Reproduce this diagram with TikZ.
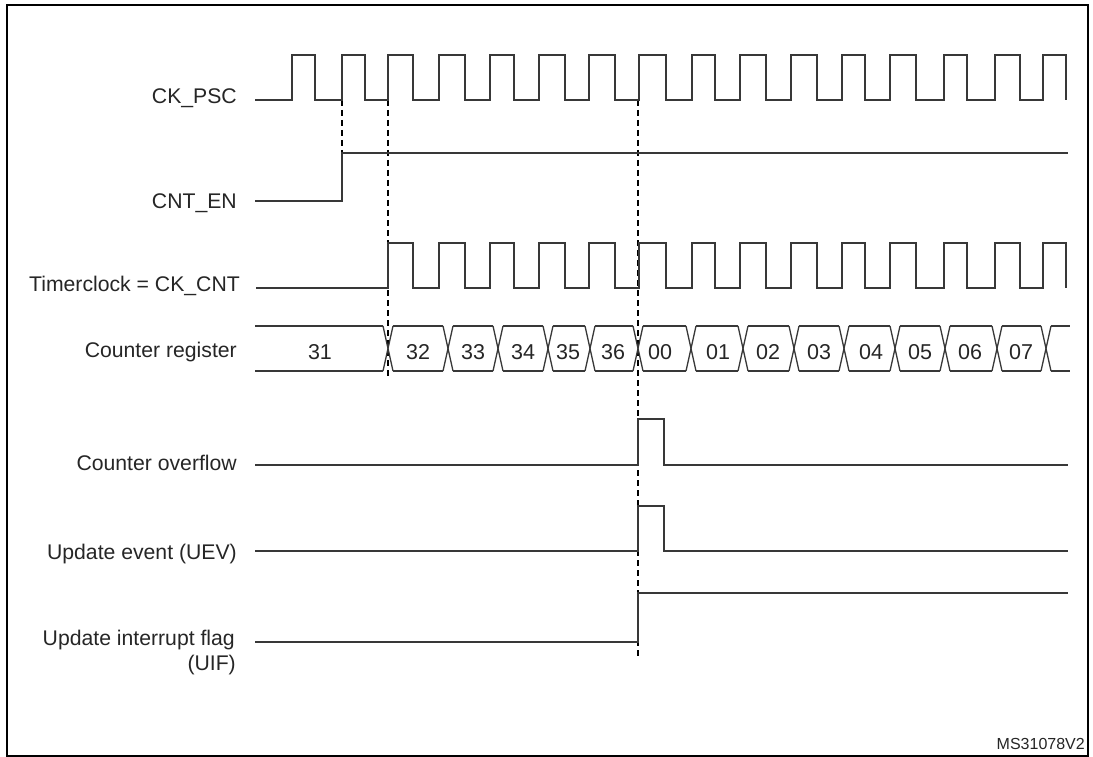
\documentclass[tikz,border=0pt]{standalone}
\usepackage{fontspec}
\setmainfont{Liberation Sans}
\begin{document}
\begin{tikzpicture}[x=1pt,y=-1pt,
  sig/.style={draw=black!78,line width=1.3pt,line join=miter},
  guide/.style={draw=black,line width=1.1pt,dash pattern=on 6pt off 4pt},
  lbl/.style={anchor=base east,inner sep=0pt,text=black!85,font=\fontsize{21.2}{25}\selectfont},
  num/.style={anchor=base,inner sep=0pt,text=black!85,font=\fontsize{21.5}{25}\selectfont},
  frame/.style={draw=black,line width=2.4pt}]
\useasboundingbox (0,0) rectangle (1093,757);
\fill[white] (0,0) rectangle (1093,757);
\draw[frame] (7,5) rectangle (1088,756);

% labels
\node[lbl] (lpsc) at (237,103.5) {CK\_PSC};
\node[lbl] (len) at (237,208) {CNT\_EN};
\node[lbl] (lclk) at (240,291) {Timerclock = CK\_CNT};
\node[lbl] (lcnt) at (237,357) {Counter register};
\node[lbl] (lovf) at (237,470) {Counter overflow};
\node[lbl] (luev) at (237,559) {Update event (UEV)};
\node[lbl] (luif) at (235,645) {Update interrupt flag};
\node[lbl] (luif2) at (236,670) {(UIF)};
\node[anchor=base east,inner sep=0pt,text=black!85,font=\fontsize{16}{18}\selectfont] (ms) at (1085,749) {MS31078V2};

% guides
\draw[guide] (342,100) -- (342,201);
\draw[guide] (388,100) -- (388,379);
\draw[guide] (638,100) -- (638,658);

% CK_PSC
\draw[sig] (255,100)
  \foreach \r/\f in {292/315,342/365,388/413,439/465,490/514,539/565,589/615,639/666,692/715,740/766,791/817,842/865,890/916,944/967,995/1020,1043/1066}
  { -- (\r,100) -- (\r,55) -- (\f,55) -- (\f,100) };

% CNT_EN
\draw[sig] (255,201) -- (342,201) -- (342,153) -- (1068,153);

% Timerclock
\draw[sig] (256,288)
  \foreach \r/\f in {388/413,439/465,490/514,539/565,589/615,639/666,692/715,740/766,791/817,842/865,890/916,944/967,995/1020,1043/1066}
  { -- (\r,288) -- (\r,243) -- (\f,243) -- (\f,288) };

% Counter register bus
\def\bt{326}\def\bb{371}\def\bd{5}
\draw[sig] (255,\bt) -- (388-\bd,\bt);
\draw[sig] (255,\bb) -- (388-\bd,\bb);
\foreach \a/\b in {388/448,448/498,498/548,548/590,590/638,638/691,691/743,743/794,794/844,844/895,895/945,945/997,997/1046}{
  \draw[sig] (\a+\bd,\bt) -- (\b-\bd,\bt);
  \draw[sig] (\a+\bd,\bb) -- (\b-\bd,\bb);
}
\foreach \c in {388,448,498,548,590,638,691,743,794,844,895,945,997,1046}{
  \draw[sig] (\c-\bd,\bt) -- (\c+\bd,\bb);
  \draw[sig] (\c-\bd,\bb) -- (\c+\bd,\bt);
}
\draw[sig] (1046+\bd,\bt) -- (1070,\bt);
\draw[sig] (1046+\bd,\bb) -- (1070,\bb);
\foreach \x/\t/\n in {320/31/v31,418/32/v32,473/33/v33,523/34/v34,568/35/v35,613/36/v36,660/00/v00,718/01/v01,768/02/v02,819/03/v03,871/04/v04,920/05/v05,970/06/v06,1021/07/v07}{
  \node[num] (\n) at (\x,359) {\t};
}

% Counter overflow
\draw[sig] (255,465) -- (638,465) -- (638,419) -- (664,419) -- (664,465) -- (1068,465);
% UEV
\draw[sig] (255,551) -- (638,551) -- (638,506) -- (664,506) -- (664,551) -- (1068,551);
% UIF
\draw[sig] (255,642) -- (638,642) -- (638,593) -- (1068,593);
\end{tikzpicture}
\end{document}
